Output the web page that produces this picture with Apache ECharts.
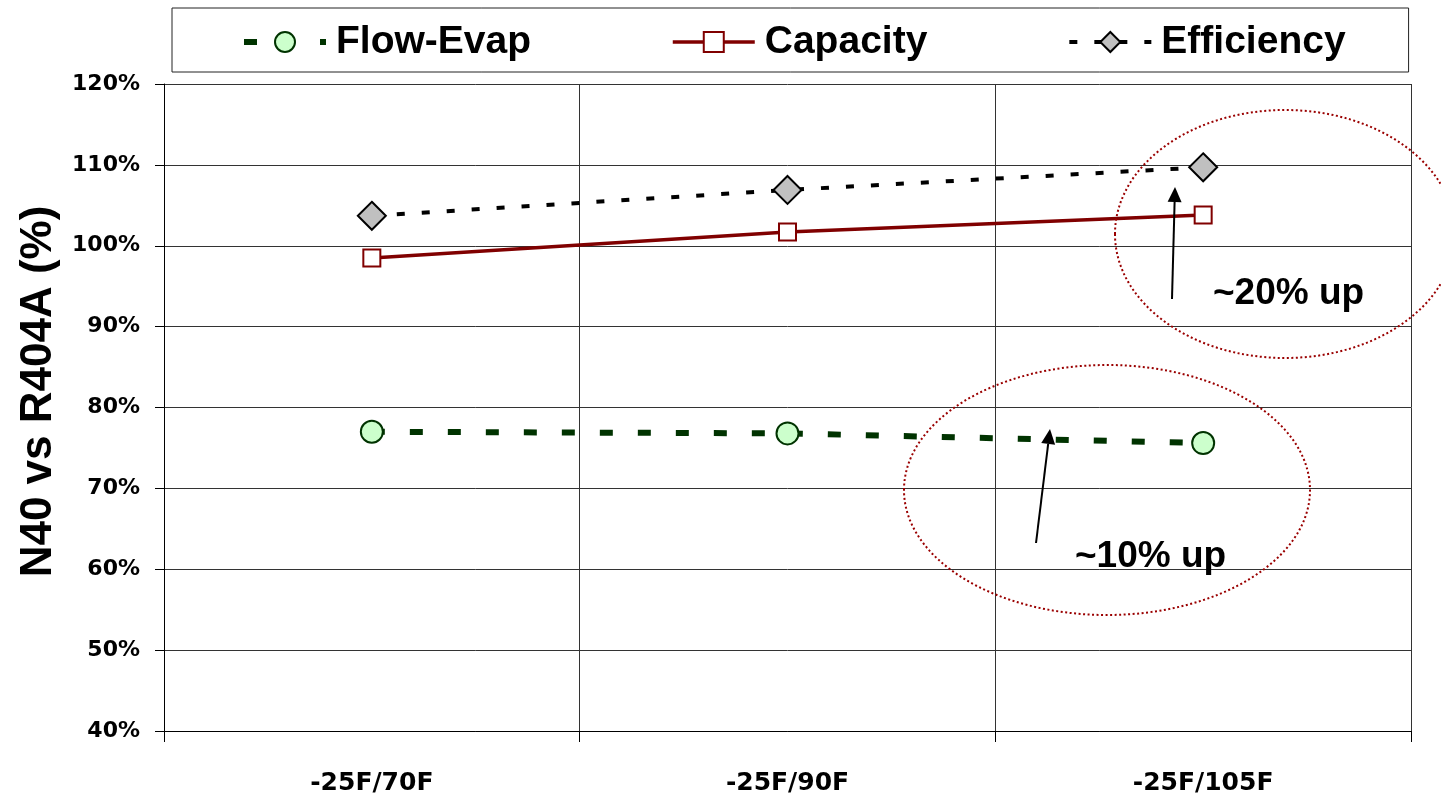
<!DOCTYPE html>
<html>
<head>
<meta charset="utf-8">
<title>N40 vs R404A</title>
<script src="https://cdn.jsdelivr.net/npm/echarts@6/dist/echarts.min.js"></script>
<style>
  html, body { margin: 0; padding: 0; background: #ffffff; }
  #chart { width: 1441px; height: 801px; }
</style>
</head>
<body>
<div id="chart"></div>
<script>
// Operating conditions (evaporating / condensing temperature)
const categories = ['-25F/70F', '-25F/90F', '-25F/105F'];

// N40 relative to R404A, in percent
const flowEvap = [77.0, 76.8, 75.6];
const capacity = [98.5, 101.7, 103.8];
const efficiency = [103.7, 106.9, 109.7];

const seriesNames = ['Flow-Evap', 'Capacity', 'Efficiency'];
const yTitle = 'N40 vs R404A (%)';
const notes = ['~20% up', '~10% up'];

// Line styles shared by the series and their legend icons
const flowLine = { color: '#003300', width: 6, type: [13, 25], cap: 'butt' };
const capLine = { color: '#800000', width: 3.5, type: 'solid' };
const effLine = { color: '#000000', width: 4, type: [8, 17], cap: 'butt' };

const chart = echarts.init(document.getElementById('chart'), null, { renderer: 'canvas' });

// Arrow from (x1,y1) to the tip (x2,y2): shaft plus a filled head
function arrow(x1, y1, x2, y2) {
  const len = 15, half = 7;
  const dx = x2 - x1, dy = y2 - y1;
  const d = Math.sqrt(dx * dx + dy * dy);
  const ux = dx / d, uy = dy / d;
  const bx = x2 - ux * len, by = y2 - uy * len;
  return [
    { type: 'line', silent: true, z: 50,
      shape: { x1: x1, y1: y1, x2: bx, y2: by },
      style: { stroke: '#000', lineWidth: 2 } },
    { type: 'polygon', silent: true, z: 50,
      shape: { points: [[x2, y2], [bx - uy * half, by + ux * half], [bx + uy * half, by - ux * half]] },
      style: { fill: '#000' } }
  ];
}

function ellipse(cx, cy, rx, ry) {
  return { type: 'ellipse', silent: true, z: 40,
    shape: { cx: cx, cy: cy, rx: rx, ry: ry },
    style: { fill: 'none', stroke: '#9a0000', lineWidth: 2, lineDash: [2, 2.5] } };
}

function note(text, x, y) {
  return { type: 'text', silent: true, z: 50, left: x, top: y,
    style: { text: text, fill: '#000', font: 'bold 37px "Liberation Sans", Arial, sans-serif' } };
}

const option = {
  animation: false,
  backgroundColor: '#ffffff',
  grid: { left: 164, right: 30, top: 84, bottom: 70, containLabel: false },
  legend: {
    left: 172, top: 8,
    padding: [11, 63, 7, 69],
    itemGap: 140,
    itemWidth: 82,
    itemHeight: 25,
    borderColor: '#222',
    borderWidth: 1,
    data: [
      { name: seriesNames[0], lineStyle: flowLine },
      { name: seriesNames[1], lineStyle: capLine },
      { name: seriesNames[2], lineStyle: effLine }
    ],
    textStyle: {
      fontFamily: '"Liberation Sans", Arial, sans-serif',
      fontWeight: 'bold', fontSize: 39, color: '#000',
      lineHeight: 46, padding: [0, 0, 0, 5]
    }
  },
  xAxis: {
    type: 'category',
    data: categories,
    boundaryGap: true,
    axisLine: { lineStyle: { color: '#000', width: 1 } },
    axisTick: { show: true, length: 11, lineStyle: { color: '#000' } },
    splitLine: { show: true, lineStyle: { color: '#333', width: 1 } },
    axisLabel: {
      margin: 40,
      fontFamily: '"DejaVu Sans", sans-serif', fontWeight: 'bold',
      fontSize: 25, color: '#000'
    }
  },
  yAxis: {
    type: 'value',
    min: 40, max: 120, interval: 10,
    name: yTitle,
    nameLocation: 'middle',
    nameRotate: 90,
    nameGap: 102,
    nameTextStyle: {
      fontFamily: '"Liberation Sans", Arial, sans-serif',
      fontWeight: 'bold', fontSize: 44, color: '#000',
      padding: [0, 0, 0, 32]
    },
    axisLine: { show: true, lineStyle: { color: '#000', width: 1 } },
    axisTick: { show: true, length: 9, lineStyle: { color: '#000' } },
    splitLine: { show: true, lineStyle: { color: '#333', width: 1 } },
    axisLabel: {
      margin: 24,
      formatter: '{value}%',
      fontFamily: '"DejaVu Sans", sans-serif', fontWeight: 'bold',
      fontSize: 22, color: '#000'
    }
  },
  series: [
    {
      name: seriesNames[0], type: 'line', data: flowEvap,
      symbol: 'circle', symbolSize: 22,
      itemStyle: { color: '#ccffcc', borderColor: '#003300', borderWidth: 2 },
      lineStyle: flowLine,
      emphasis: { disabled: true }, z: 3
    },
    {
      name: seriesNames[1], type: 'line', data: capacity,
      symbol: 'rect', symbolSize: 17,
      itemStyle: { color: '#ffffff', borderColor: '#800000', borderWidth: 2 },
      lineStyle: capLine,
      emphasis: { disabled: true }, z: 4
    },
    {
      name: seriesNames[2], type: 'line', data: efficiency,
      symbol: 'diamond', symbolSize: 28,
      itemStyle: { color: '#c0c0c0', borderColor: '#000000', borderWidth: 2 },
      lineStyle: effLine,
      emphasis: { disabled: true }, z: 5
    }
  ],
  graphic: [
    ellipse(1285, 234, 170, 124),
    ellipse(1107, 490, 203, 125),
    ...arrow(1172, 299, 1175, 187),
    ...arrow(1036, 543, 1050, 429),
    note(notes[0], 1213, 275),
    note(notes[1], 1075, 538)
  ]
};

chart.setOption(option);
</script>
</body>
</html>
